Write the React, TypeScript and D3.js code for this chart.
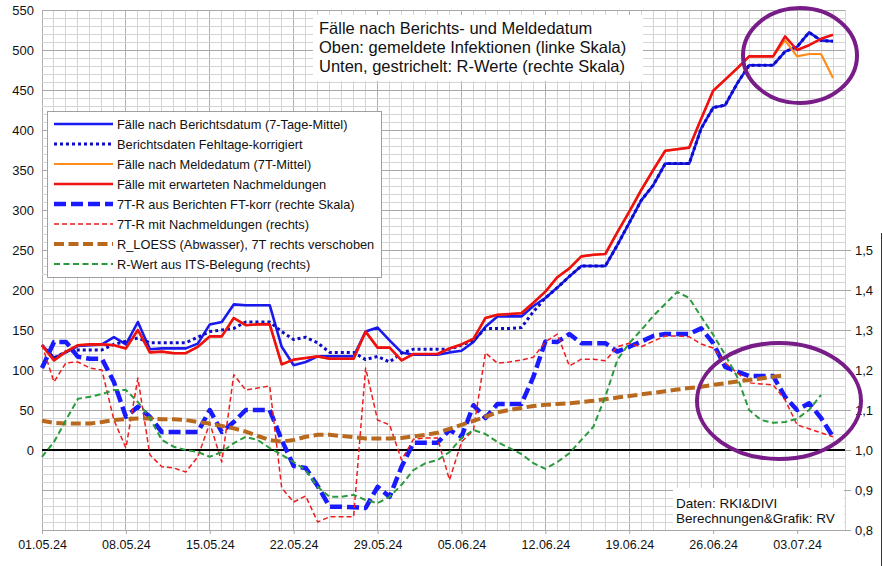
import React, { useEffect, useRef } from 'react';
import * as d3 from 'd3';

const W = 883;
const H = 566;

// x-Achse: Tage ab 01.05.24
const dateTickDays = [0, 7, 14, 21, 28, 35, 42, 49, 56, 63];
const dateLabels = ['01.05.24', '08.05.24', '15.05.24', '22.05.24', '29.05.24', '05.06.24', '12.06.24', '19.06.24', '26.06.24', '03.07.24'];
const leftTicks = [0, 50, 100, 150, 200, 250, 300, 350, 400, 450, 500, 550];
const rightTicks = [0.8, 0.9, 1.0, 1.1, 1.2, 1.3, 1.4, 1.5, 1.6, 1.7, 1.8, 1.9, 2.0, 2.1];

// linke Skala (Fälle)
const faelleBericht = [131, 115, 122, 130, 131, 132, 141, 132, 160, 126, 127, 127, 127, 133, 157, 160, 182, 181, 181, 181, 129, 106, 110, 117, 117, 117, 117, 148, 153, 137, 122, 119, 119, 119, 122, 124, 135, 154, 167, 167, 167, 180, 190, 203, 217, 230, 230, 230, 256, 284, 312, 331, 358, 358, 358, 402, 428, 431, 458, 481, 481, 481, 498, 504, 522, 512, 511];
const faelleKorr = [131, 115, 123, 125, 125, 125, 132, 136, 140, 134, 134, 134, 134, 141, 148, 150, 152, 160, 160, 160, 148, 138, 141, 134, 122, 122, 122, 113, 117, 110, 121, 126, 126, 126, 126, 131, 137, 152, 152, 152, 153, 173, 190, 203, 217, 230, 230, 230, 256, 284, 312, 331, 358, 358, 358, 402, 428, 431, 458, 481, 481, 481, 498, 504, 522, 512, 511];
const faelleMelde = [131, 112, 123, 131, 132, 132, 131, 127, 150, 122, 123, 121, 121, 129, 142, 142, 165, 156, 157, 157, 107, 113, 115, 117, 114, 114, 114, 148, 128, 128, 112, 120, 120, 120, 127, 132, 139, 165, 169, 170, 171, 184, 198, 216, 227, 242, 244, 245, 272, 298, 325, 350, 374, 376, 378, 414, 449, 463, 477, 492, 492, 492, 512, 492, 495, 495, 465];
const faelleNachm = [131, 112, 123, 131, 132, 132, 131, 127, 150, 122, 123, 121, 121, 129, 142, 142, 165, 156, 157, 157, 107, 113, 115, 117, 114, 114, 114, 148, 128, 128, 112, 120, 120, 120, 127, 132, 139, 165, 169, 170, 171, 184, 198, 216, 227, 242, 244, 245, 272, 298, 325, 350, 374, 376, 378, 414, 449, 463, 477, 492, 492, 492, 517, 500, 506, 514, 519];

// rechte Skala (R-Werte)
const rBericht = [1.205, 1.27, 1.27, 1.233, 1.228, 1.228, 1.17, 1.083, 1.108, 1.083, 1.045, 1.045, 1.045, 1.045, 1.10, 1.045, 1.07, 1.10, 1.10, 1.10, 1.025, 0.96, 0.955, 0.91, 0.858, 0.858, 0.857, 0.855, 0.908, 0.883, 0.958, 1.018, 1.018, 1.018, 1.05, 1.033, 1.112, 1.08, 1.115, 1.115, 1.115, 1.183, 1.271, 1.27, 1.29, 1.267, 1.267, 1.267, 1.246, 1.258, 1.271, 1.285, 1.29, 1.29, 1.29, 1.304, 1.267, 1.208, 1.196, 1.185, 1.185, 1.185, 1.133, 1.1, 1.117, 1.08, 1.033];
const rNachm = [1.263, 1.17, 1.218, 1.22, 1.205, 1.2, 1.075, 1.005, 1.18, 0.988, 0.958, 0.955, 0.945, 0.983, 1.067, 0.97, 1.188, 1.15, 1.155, 1.16, 0.905, 0.87, 0.885, 0.82, 0.833, 0.833, 0.833, 1.205, 1.075, 1.063, 0.975, 1.027, 1.03, 1.03, 0.925, 1.02, 1.05, 1.243, 1.217, 1.22, 1.225, 1.232, 1.27, 1.29, 1.21, 1.227, 1.227, 1.223, 1.258, 1.267, 1.258, 1.272, 1.285, 1.285, 1.283, 1.265, 1.255, 1.218, 1.193, 1.168, 1.165, 1.163, 1.125, 1.063, 1.053, 1.043, 1.033];
const rLoess = [1.073, 1.068, 1.066, 1.066, 1.066, 1.07, 1.075, 1.077, 1.079, 1.079, 1.077, 1.077, 1.075, 1.07, 1.066, 1.06, 1.054, 1.046, 1.035, 1.025, 1.021, 1.025, 1.033, 1.038, 1.038, 1.035, 1.032, 1.029, 1.029, 1.029, 1.03, 1.034, 1.038, 1.043, 1.053, 1.063, 1.073, 1.083, 1.094, 1.1, 1.105, 1.11, 1.113, 1.115, 1.117, 1.12, 1.123, 1.127, 1.131, 1.135, 1.139, 1.143, 1.147, 1.151, 1.155, 1.158, 1.163, 1.167, 1.171, 1.175, 1.179, 1.183, 1.187];
const rIts = [0.983, 1.02, 1.075, 1.128, 1.133, 1.14, 1.15, 1.15, 1.12, 1.08, 1.025, 1.008, 1.0, 0.995, 0.983, 0.995, 1.017, 1.033, 1.025, 1.005, 0.988, 0.97, 0.95, 0.908, 0.883, 0.883, 0.888, 0.875, 0.867, 0.883, 0.913, 0.95, 0.967, 0.975, 0.995, 1.03, 1.05, 1.04, 1.02, 1.005, 0.99, 0.967, 0.953, 0.97, 0.992, 1.025, 1.058, 1.133, 1.225, 1.267, 1.3, 1.335, 1.365, 1.395, 1.38, 1.333, 1.288, 1.238, 1.183, 1.1, 1.075, 1.068, 1.07, 1.078, 1.1, 1.138];

const FONT = '"Liberation Sans", Arial, sans-serif';

const App = () => {
  const svgRef = useRef<SVGSVGElement | null>(null);

  useEffect(() => {
    const svg = d3.select(svgRef.current);
    svg.selectAll('*').remove();

    const x = d3.scaleLinear().domain([0, 67]).range([42, 845]);
    const yL = d3.scaleLinear().domain([-100, 550]).range([530, 10]);
    const yR = d3.scaleLinear().domain([0.8, 2.1]).range([530, 10]);

    svg.append('rect').attr('width', W).attr('height', H).attr('fill', 'white');

    // Gitter
    const grid = svg.append('g');
    d3.range(0, 68).forEach(d => {
      grid.append('line')
        .attr('x1', x(d)).attr('x2', x(d))
        .attr('y1', yL(550)).attr('y2', yL(-100))
        .attr('stroke', d % 7 === 0 ? '#b0b0b0' : '#d4d4d4')
        .attr('stroke-width', 1)
        .attr('shape-rendering', 'crispEdges');
    });
    d3.range(-100, 551, 10).forEach(v => {
      grid.append('line')
        .attr('x1', x(0)).attr('x2', x(67))
        .attr('y1', yL(v)).attr('y2', yL(v))
        .attr('stroke', v % 50 === 0 ? '#a8a8a8' : '#d4d4d4')
        .attr('stroke-width', 1)
        .attr('shape-rendering', 'crispEdges');
    });

    // Achsen
    const left = svg.append('g')
      .attr('transform', `translate(${x(0)},0)`)
      .call(d3.axisLeft(yL).tickValues(leftTicks).tickSize(0).tickPadding(8));
    left.select('.domain').remove();
    left.selectAll('text').style('font-family', FONT).style('font-size', '13px').attr('fill', '#111');

    const right = svg.append('g')
      .attr('transform', `translate(${x(67)},0)`)
      .call(d3.axisRight(yR).tickValues(rightTicks.filter(r => r <= 1.5)).tickSize(6).tickPadding(4)
        .tickFormat(d => (d as number).toFixed(1).replace('.', ',')));
    right.select('.domain').remove();
    right.selectAll('line').attr('stroke', '#a8a8a8');
    right.selectAll('text').style('font-family', FONT).style('font-size', '13px').attr('fill', '#111');

    const bottom = svg.append('g')
      .attr('transform', `translate(0,${yL(-100)})`)
      .call(d3.axisBottom(x).tickValues(dateTickDays).tickSize(4).tickPadding(6)
        .tickFormat((d, i) => dateLabels[i]));
    bottom.select('.domain').remove();
    bottom.selectAll('line').attr('stroke', '#a8a8a8');
    bottom.selectAll('text').style('font-family', FONT).style('font-size', '12.5px').attr('fill', '#111');

    svg.append('line')
      .attr('x1', 881.5).attr('x2', 881.5).attr('y1', 233).attr('y2', H)
      .attr('stroke', '#333').attr('stroke-width', 1);

    // Nulllinie
    svg.append('line')
      .attr('x1', x(0)).attr('x2', x(67))
      .attr('y1', yL(0)).attr('y2', yL(0))
      .attr('stroke', '#000').attr('stroke-width', 2);

    const series = [
      { values: faelleBericht, scale: yL, color: '#1a1aee', width: 2.6, dash: null, label: 'Fälle nach Berichtsdatum (7-Tage-Mittel)' },
      { values: faelleKorr, scale: yL, color: '#0c0cc4', width: 3, dash: '3,3', label: 'Berichtsdaten Fehltage-korrigiert' },
      { values: faelleMelde, scale: yL, color: '#ff8c1a', width: 2.2, dash: null, label: 'Fälle nach Meldedatum (7T-Mittel)' },
      { values: faelleNachm, scale: yL, color: '#ee1111', width: 2.6, dash: null, label: 'Fälle mit erwarteten Nachmeldungen' },
      { values: rBericht, scale: yR, color: '#1a1aff', width: 4.5, dash: '12,5', label: '7T-R aus Berichten FT-korr (rechte Skala)' },
      { values: rNachm, scale: yR, color: '#ee1c1c', width: 1.5, dash: '5,3', label: '7T-R mit Nachmeldungen (rechts)' },
      { values: rLoess, scale: yR, color: '#b8691e', width: 4, dash: '10,4.5', label: 'R_LOESS (Abwasser), 7T rechts verschoben' },
      { values: rIts, scale: yR, color: '#2a9a3c', width: 2, dash: '6,3.5', label: 'R-Wert aus ITS-Belegung (rechts)' },
    ];

    const lines = svg.append('g');
    series.forEach(s => {
      const line = d3.line<number>()
        .x((_, i) => x(i))
        .y(d => s.scale(d));
      lines.append('path')
        .datum(s.values)
        .attr('fill', 'none')
        .attr('stroke', s.color)
        .attr('stroke-width', s.width)
        .attr('stroke-dasharray', s.dash)
        .attr('stroke-linejoin', 'round')
        .attr('d', line);
    });

    // Legende
    const legend = svg.append('g');
    legend.append('rect')
      .attr('x', 47.5).attr('y', 111.5).attr('width', 334).attr('height', 166)
      .attr('fill', 'white').attr('stroke', '#a0a0a0').attr('stroke-width', 1);
    series.forEach((s, i) => {
      const yy = 124 + i * 20;
      legend.append('line')
        .attr('x1', 54).attr('x2', 113).attr('y1', yy).attr('y2', yy)
        .attr('stroke', s.color)
        .attr('stroke-width', s.width)
        .attr('stroke-dasharray', s.dash);
      legend.append('text')
        .attr('x', 117).attr('y', yy + 4.5)
        .style('font-family', FONT).style('font-size', '12.8px')
        .attr('fill', '#111')
        .text(s.label);
    });

    // Titel
    svg.append('rect').attr('x', 313).attr('y', 15).attr('width', 330).attr('height', 66).attr('fill', 'white');
    ['Fälle nach Berichts- und Meldedatum', 'Oben: gemeldete Infektionen (linke Skala)', 'Unten, gestrichelt: R-Werte (rechte Skala)']
      .forEach((t, i) => {
        svg.append('text')
          .attr('x', 319).attr('y', 34 + i * 19)
          .style('font-family', FONT).style('font-size', '16.5px')
          .attr('fill', '#111')
          .text(t);
      });

    // Quelle
    svg.append('rect').attr('x', 673).attr('y', 488).attr('width', 171).attr('height', 42).attr('fill', 'white');
    ['Daten: RKI&DIVI', 'Berechnungen&Grafik: RV'].forEach((t, i) => {
      svg.append('text')
        .attr('x', 676).attr('y', 508 + i * 15)
        .style('font-family', FONT).style('font-size', '13.5px')
        .attr('fill', '#111')
        .text(t);
    });

    // Markierungen
    svg.append('ellipse')
      .attr('cx', 800).attr('cy', 55.5).attr('rx', 57).attr('ry', 47.5)
      .attr('fill', 'none').attr('stroke', '#781c87').attr('stroke-width', 4);
    svg.append('ellipse')
      .attr('cx', 779).attr('cy', 401).attr('rx', 82).attr('ry', 58)
      .attr('fill', 'none').attr('stroke', '#781c87').attr('stroke-width', 4);
  }, []);

  return (
    <div style={{ position: 'absolute', left: 0, top: 0, width: W, height: H }}>
      <svg ref={svgRef} width={W} height={H} style={{ display: 'block' }} />
    </div>
  );
};

export default App;
